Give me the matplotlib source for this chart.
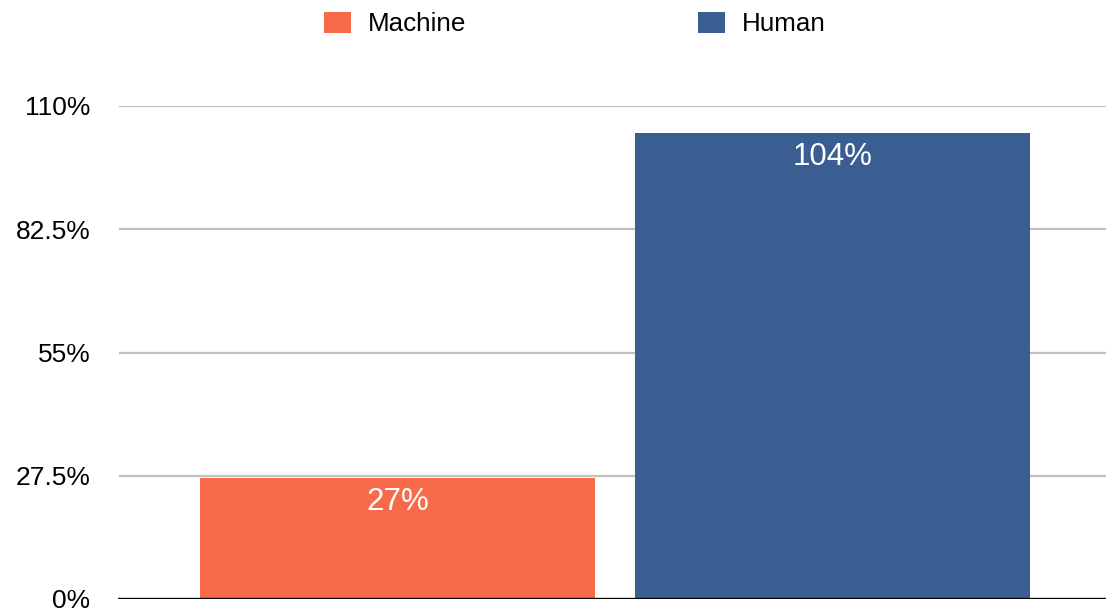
import matplotlib
matplotlib.use("Agg")
import matplotlib.pyplot as plt
from matplotlib.patches import Patch

# data
categories = ["Machine", "Human"]
values = [27, 104]
labels = ["27%", "104%"]
colors = ["#F76A4A", "#3A5E91"]
yticks = [0, 27.5, 55, 82.5, 110]
ytick_labels = ["0%", "27.5%", "55%", "82.5%", "110%"]

plt.rcParams['font.family'] = ['Liberation Sans', 'DejaVu Sans']

fig = plt.figure(figsize=(11.06, 6.12), dpi=100)
ax = fig.add_axes([118/1106, 13/612, 1 - 118/1106, (599 - 106)/612])

x = list(range(len(categories)))
bars = ax.bar(x, values, width=0.91, color=colors, zorder=3)

# value labels inside the bars
for b, lab in zip(bars, labels):
    ax.annotate(lab, (b.get_x() + b.get_width()/2, b.get_height()),
                xytext=(0, -24), textcoords='offset pixels',
                ha='center', va='center', color='white', fontsize=22.5, zorder=4)

ax.set_xlim(-0.6425, 1.6287)
ax.set_ylim(0, 110)
ax.set_yticks(yticks)
ax.set_yticklabels(ytick_labels, fontsize=19)
ax.set_xticks([])
ax.tick_params(axis='y', length=0, pad=20)

# gridlines
for t in yticks[1:]:
    ax.axhline(t, xmin=2/988, color='#c0c0c0', lw=1.6, zorder=1)
ax.axhline(0, color='black', lw=2.4, zorder=5)

for s in ax.spines.values():
    s.set_visible(False)

handles = [Patch(facecolor=c, edgecolor='none') for c in colors]
fig.legend(handles, categories, loc='center', bbox_to_anchor=(575/1106, 1 - 24/612),
           ncol=2, frameon=False, fontsize=18.7, handlelength=1.04, handleheight=0.92,
           handletextpad=0.65, columnspacing=8.9)

fig.savefig("out.png", dpi=100)
